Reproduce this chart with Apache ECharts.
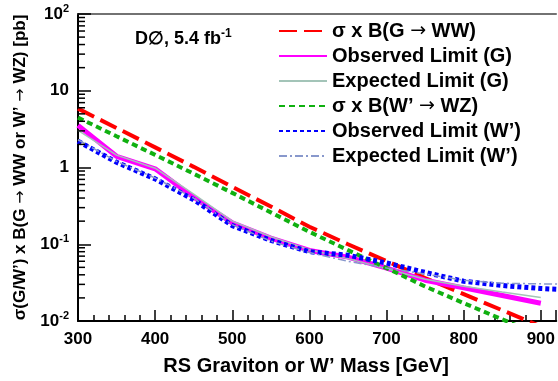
<!DOCTYPE html>
<html>
<head>
<meta charset="utf-8">
<script src="https://cdn.jsdelivr.net/npm/echarts@6/dist/echarts.min.js"></script>
<style>
  html, body { margin: 0; padding: 0; background: #fff; }
  #chart { width: 558px; height: 381px; }
</style>
</head>
<body>
<div id="chart"></div>
<script>
  // masses (GeV)
  var massG = [300, 350, 400, 450, 500, 550, 600, 650, 700, 750, 800, 850, 900];
  var massW = [300, 350, 400, 450, 500, 550, 600, 650, 700, 750, 800, 850, 900, 950];

  // theory curves
  var xsecG = [5.85, 3.27, 1.83, 1.02, 0.56, 0.31, 0.169, 0.1, 0.0605, 0.0363, 0.0224, 0.0138, 0.0085];
  var xsecW = [4.47, 2.55, 1.46, 0.83, 0.467, 0.26, 0.145, 0.0838, 0.0489, 0.0282, 0.0171, 0.0105, 0.0065];

  // limits
  var obsG = [3.54, 1.4, 0.96, 0.41, 0.19, 0.12, 0.083, 0.068, 0.049, 0.034, 0.027, 0.0215, 0.017];
  var expG = [3.05, 1.45, 0.98, 0.45, 0.2, 0.125, 0.085, 0.065, 0.048, 0.035, 0.0284, 0.0238, 0.0202];
  var obsW = [2.2, 1.17, 0.71, 0.38, 0.175, 0.112, 0.08, 0.072, 0.057, 0.043, 0.033, 0.029, 0.0265, 0.025];
  var expW = [2.3, 1.2, 0.73, 0.4, 0.18, 0.11, 0.078, 0.06, 0.049, 0.041, 0.034, 0.031, 0.0305, 0.030];

  var yTickLabels = { '100': '10{sup|2}', '10': '10', '1': '1', '0.1': '10{sup|-1}', '0.01': '10{sup|-2}' };
  var yMinorTicks = [0.02, 0.03, 0.04, 0.05, 0.06, 0.07, 0.08, 0.09,
                     0.2, 0.3, 0.4, 0.5, 0.6, 0.7, 0.8, 0.9,
                     2, 3, 4, 5, 6, 7, 8, 9,
                     20, 30, 40, 50, 60, 70, 80, 90];

  var names = ['σ x B(G → WW)', 'Observed Limit (G)', 'Expected Limit (G)',
               'σ x B(W\u2019 → WZ)', 'Observed Limit (W\u2019)', 'Expected Limit (W\u2019)'];

  function pairs(xs, ys) {
    var out = [];
    for (var i = 0; i < ys.length; i++) out.push([xs[i], ys[i]]);
    return out;
  }

  // wider arrow glyph, like the symbol font in the original
  function arrows(s) { return s.replace(/→/g, '{a|→}'); }

  var font = 'Liberation Sans';

  function lineSerie(name, xs, ys, color, width, type) {
    return {
      name: name,
      type: 'line',
      symbol: 'none',
      clip: true,
      data: pairs(xs, ys),
      lineStyle: { color: color, width: width, type: type },
      itemStyle: { color: color },
      z: 3
    };
  }

  var chart = echarts.init(document.getElementById('chart'));
  chart.setOption({
    animation: false,
    backgroundColor: '#fff',
    textStyle: { fontFamily: font },
    grid: { left: 78, right: 0, top: 14, bottom: 57 },
    legend: {
      orient: 'vertical',
      left: 273,
      top: 16,
      itemWidth: 48,
      itemHeight: 14,
      itemGap: 5,
      data: names,
      itemStyle: { opacity: 0 },
      formatter: arrows,
      textStyle: {
        fontFamily: font, fontWeight: 'bold', fontSize: 20, color: '#000',
        rich: { a: { fontFamily: 'DejaVu Sans', fontSize: 19, fontWeight: 'normal', color: '#000' } }
      }
    },
    graphic: [{
      type: 'text',
      left: 135,
      top: 28,
      style: {
        text: 'D\u2205, 5.4 fb{sup|-1}',
        font: 'bold 18px ' + font,
        fill: '#000',
        rich: { sup: { fontSize: 12, fontWeight: 'bold', fontFamily: font, verticalAlign: 'top', padding: [0, 0, 10, 0] } }
      }
    }],
    xAxis: [{
      type: 'value',
      min: 300,
      max: 920,
      interval: 100,
      name: 'RS Graviton or W\u2019 Mass [GeV]',
      nameLocation: 'middle',
      nameGap: 35,
      nameTextStyle: { fontFamily: font, fontWeight: 'bold', fontSize: 20, color: '#000', padding: [0, 22, 0, 0] },
      axisLine: { lineStyle: { color: '#000', width: 2 } },
      axisTick: { inside: true, length: 11, lineStyle: { color: '#000', width: 1.5 } },
      minorTick: { show: true, splitNumber: 5, length: 6, lineStyle: { color: '#000', width: 1.5 } },
      splitLine: { show: false },
      axisLabel: {
        margin: 10, fontFamily: font, fontWeight: 'bold', fontSize: 17, color: '#000',
        showMaxLabel: false,
        formatter: function (v) { return v === 920 ? '' : String(v); }
      }
    }, {
      type: 'value',
      position: 'top',
      min: 300,
      max: 920,
      axisLine: { show: true, lineStyle: { color: '#444', width: 1.5 } },
      axisTick: { show: false },
      axisLabel: { show: false },
      splitLine: { show: false }
    }],
    yAxis: {
      type: 'log',
      logBase: 10,
      min: 0.01,
      max: 100,
      name: arrows('σ(G/W\u2019) x B(G → WW or W\u2019 → WZ) [pb]'),
      nameLocation: 'middle',
      nameRotate: 90,
      nameGap: 49,
      nameTextStyle: {
        fontFamily: font, fontWeight: 'bold', fontSize: 17, color: '#000',
        rich: { a: { fontFamily: 'DejaVu Sans', fontSize: 16, fontWeight: 'normal', color: '#000' } }
      },
      axisLine: { show: true, lineStyle: { color: '#000', width: 2 } },
      axisTick: { inside: true, length: 13, lineStyle: { color: '#000', width: 1.5 } },
      splitLine: { show: false },
      axisLabel: {
        margin: 9, fontFamily: font, fontWeight: 'bold', fontSize: 17, color: '#000',
        formatter: function (v) {
          var key = String(+v.toPrecision(3));
          return yTickLabels[key] !== undefined ? yTickLabels[key] : '';
        },
        rich: { sup: { fontSize: 11, fontWeight: 'bold', fontFamily: font, verticalAlign: 'top', padding: [0, 0, 10, 0] } }
      }
    },
    series: [
      lineSerie(names[0], massG, xsecG, '#ff0000', 4, [18, 7]),
      lineSerie(names[1], massG, obsG, '#ff00ff', 5, 'solid'),
      lineSerie(names[2], massG, expG, '#a3c4b8', 1.5, 'solid'),
      lineSerie(names[3], massG, xsecW, '#10b010', 4, [6, 4]),
      lineSerie(names[4], massW, obsW, '#0000ff', 5, [4, 3]),
      lineSerie(names[5], massW, expW, '#8898cc', 1.5, [8, 3, 2, 3]),
      {
        // ROOT-style minor ticks on the log axis
        type: 'custom',
        silent: true,
        data: yMinorTicks.map(function (v) { return [300, v]; }),
        renderItem: function (params, api) {
          var p = api.coord([api.value(0), api.value(1)]);
          return {
            type: 'line',
            shape: { x1: p[0], y1: p[1], x2: p[0] + 7, y2: p[1] },
            style: { stroke: '#000', lineWidth: 1.5 }
          };
        },
        z: 5
      }
    ]
  });
</script>
</body>
</html>
